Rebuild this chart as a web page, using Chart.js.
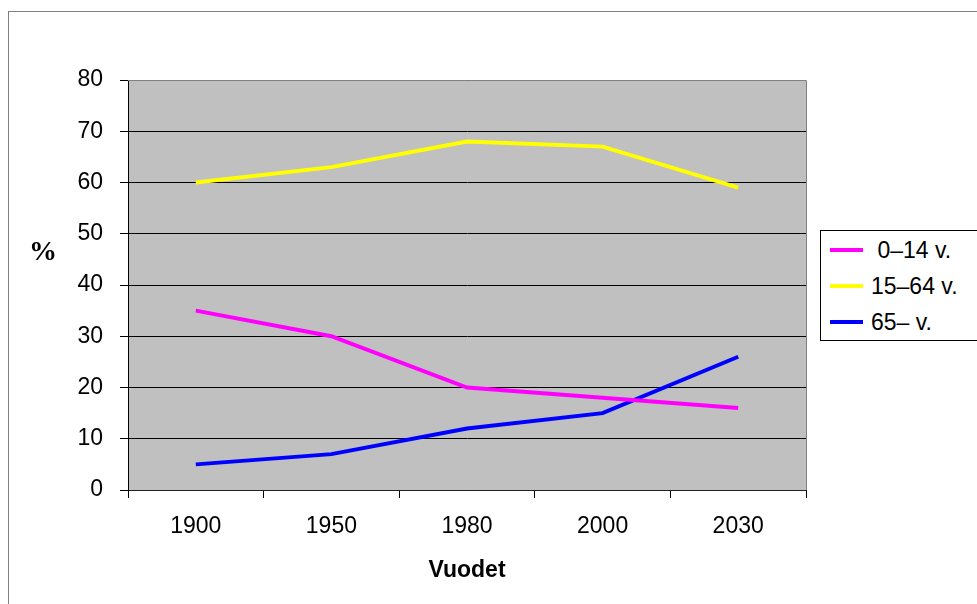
<!DOCTYPE html>
<html>
<head>
<meta charset="utf-8">
<script src="https://cdn.jsdelivr.net/npm/chart.js@4"></script>
<style>
    body { margin: 0; background: #fff; overflow: hidden; }
    #wrap { position: relative; width: 977px; height: 604px; }
    #frame { position: absolute; left: 8px; top: 11px; width: 1000px; height: 700px; border: 1px solid #808080; box-sizing: border-box; }
    #chart { position: absolute; left: 0; top: 0; }
    #legend {
        position: absolute; left: 820px; top: 230px; width: 170px; height: 111px;
        border: 1px solid #000; box-sizing: border-box; background: #fff;
        list-style: none; margin: 0; padding: 1px 0 0 0;
        font-family: 'Liberation Sans', Arial, sans-serif; font-size: 23px; color: #000;
    }
    #legend li { display: flex; align-items: center; height: 36px; white-space: pre; }
    #legend .swatch { display: block; width: 33px; height: 4px; margin-left: 9px; margin-right: 8px; }
</style>
</head>
<body>
<div id="wrap">
    <div id="frame"></div>
    <canvas id="chart" width="977" height="604"></canvas>
    <ul id="legend"></ul>
</div>
<script>
const years = ['1900', '1950', '1980', '2000', '2030'];
const kids = [35, 30, 20, 18, 16];
const working = [60, 63, 68, 67, 59];
const elderly = [5, 7, 12, 15, 26];
const seriesNames = [' 0–14 v.', '15–64 v.', '65– v.'];
const seriesColors = ['#FF00FF', '#FFFF00', '#0000FF'];

const font = "'Liberation Sans', Arial, sans-serif";

function line(label, values, color) {
    return {
        label: label,
        data: values,
        borderColor: color,
        backgroundColor: color,
        borderWidth: 4,
        pointRadius: 0,
        tension: 0,
    };
}

// plot background, grey border and the "%" label
const plotDecor = {
    id: 'plotDecor',
    beforeDraw(c) {
        const a = c.chartArea;
        const ctx = c.ctx;
        ctx.save();
        ctx.fillStyle = '#C0C0C0';
        ctx.fillRect(a.left, a.top, a.right - a.left, a.bottom - a.top);
        ctx.restore();
    },
    beforeDatasetsDraw(c) {
        const a = c.chartArea;
        const ctx = c.ctx;
        ctx.save();
        ctx.strokeStyle = '#808080';
        ctx.lineWidth = 1;
        ctx.beginPath();
        ctx.moveTo(a.left, a.top + 0.5);
        ctx.lineTo(a.right + 0.5, a.top + 0.5);
        ctx.lineTo(a.right + 0.5, a.bottom);
        ctx.stroke();
        ctx.restore();
    },
    afterDraw(c) {
        const ctx = c.ctx;
        ctx.save();
        ctx.font = "bold 28px 'Liberation Serif', 'Times New Roman', serif";
        ctx.fillStyle = '#000';
        ctx.textAlign = 'center';
        ctx.textBaseline = 'middle';
        ctx.fillText('%', 43, 253);
        ctx.restore();
    },
};

const htmlLegend = {
    id: 'htmlLegend',
    afterUpdate(c) {
        const ul = document.getElementById('legend');
        while (ul.firstChild) {
            ul.firstChild.remove();
        }
        const items = c.options.plugins.legend.labels.generateLabels(c);
        items.forEach((item) => {
            const li = document.createElement('li');
            const box = document.createElement('span');
            box.className = 'swatch';
            box.style.background = item.strokeStyle;
            const text = document.createElement('span');
            text.textContent = item.text;
            li.appendChild(box);
            li.appendChild(text);
            ul.appendChild(li);
        });
    },
};

new Chart(document.getElementById('chart'), {
    type: 'line',
    data: {
        labels: years,
        datasets: [
            line(seriesNames[0], kids, seriesColors[0]),
            line(seriesNames[1], working, seriesColors[1]),
            line(seriesNames[2], elderly, seriesColors[2]),
        ],
    },
    options: {
        responsive: false,
        animation: false,
        devicePixelRatio: 1,
        layout: {
            padding: { left: 0, top: 80, right: 171, bottom: 0 },
        },
        plugins: {
            legend: { display: false },
            tooltip: { enabled: false },
        },
        scales: {
            x: {
                offset: true,
                grid: {
                    offset: true,
                    drawOnChartArea: false,
                    drawTicks: true,
                    tickLength: 8,
                    color: '#000',
                },
                border: { display: true, color: '#202020' },
                ticks: {
                    color: '#000',
                    padding: 15,
                    font: { family: font, size: 23 },
                },
                title: {
                    display: true,
                    text: 'Vuodet',
                    color: '#000',
                    padding: { top: 0, bottom: 20 },
                    font: { family: font, size: 23, weight: 'bold' },
                },
                afterFit(scale) { scale.height = 114; },
            },
            y: {
                min: 0,
                max: 80,
                ticks: {
                    stepSize: 10,
                    color: '#000',
                    padding: 17,
                    font: { family: font, size: 23 },
                },
                grid: {
                    color: '#000',
                    tickLength: 8,
                },
                border: { display: true, color: '#000' },
                afterFit(scale) { scale.width = 128; },
            },
        },
    },
    plugins: [plotDecor, htmlLegend],
});
</script>
</body>
</html>
